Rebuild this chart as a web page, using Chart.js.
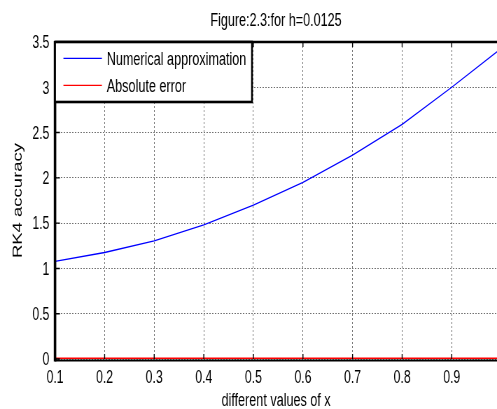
<!DOCTYPE html>
<html>
<head>
<meta charset="utf-8">
<title>RK4 accuracy</title>
<script src="https://cdn.jsdelivr.net/npm/chart.js@4.4.1/dist/chart.umd.min.js"></script>
<style>
    html, body { margin: 0; padding: 0; background: #fff; overflow: hidden; }
</style>
</head>
<body>
<!-- the figure is squeezed sideways, so the canvas is drawn wide and shown narrow -->
<canvas id="rk4" width="710" height="409" style="display:block;width:497px;height:409px"></canvas>
<script>

// values
let x_values = [0.1, 0.2, 0.3, 0.4, 0.5, 0.6, 0.7, 0.8, 0.9, 1.0];
let approx_values = [1.077, 1.176, 1.304, 1.48, 1.70, 1.95, 2.25, 2.59, 3.0, 3.43];
let error_values = [0, 0, 0, 0, 0, 0, 0, 0, 0, 0];

let x_ticks = [0.1, 0.2, 0.3, 0.4, 0.5, 0.6, 0.7, 0.8, 0.9];
let x_tick_labels = ['0.1', '0.2', '0.3', '0.4', '0.5', '0.6', '0.7', '0.8', '0.9'];
let y_ticks = [0, 0.5, 1, 1.5, 2, 2.5, 3, 3.5];
let y_tick_labels = ['0', '0.5', '1', '1.5', '2', '2.5', '3', '3.5'];

let series_labels = ['Numerical approximation', 'Absolute error'];
let series_colors = ['#0000ff', '#ff0000'];


const FONT = "'Liberation Sans', Arial, sans-serif";

function toPoints(xs, ys) {
    let points = [];
    for (let i = 0; i < xs.length; ++i) {
        points.push({x: xs[i], y: ys[i]});
    }
    return points;
}


/**
 * Box round the axes, the little inner ticks and the legend in the top left corner
 */
const framePlugin = {
    id: 'frame',
    afterDatasetsDraw(chart) {
        let ctx = chart.ctx;
        let area = chart.chartArea;
        let xs = chart.scales.x;
        let ys = chart.scales.y;

        ctx.save();
        ctx.strokeStyle = '#000';

        // ticks pointing inwards
        ctx.lineWidth = 1.4;
        ctx.beginPath();
        for (let v of x_ticks) {
            let p = xs.getPixelForValue(v);
            ctx.moveTo(p, area.top);
            ctx.lineTo(p, area.top + 5);
            ctx.moveTo(p, area.bottom);
            ctx.lineTo(p, area.bottom - 5);
        }
        for (let v of y_ticks) {
            let p = ys.getPixelForValue(v);
            ctx.moveTo(area.left, p);
            ctx.lineTo(area.left + 7, p);
        }
        ctx.stroke();

        // axes lines
        ctx.lineWidth = 2.5;
        ctx.beginPath();
        ctx.moveTo(area.left, area.top);
        ctx.lineTo(area.right, area.top);
        ctx.stroke();

        ctx.lineWidth = 2;
        ctx.beginPath();
        ctx.moveTo(area.left, area.bottom + 1.5);
        ctx.lineTo(area.right, area.bottom + 1.5);
        ctx.stroke();

        ctx.lineWidth = 3.6;
        ctx.beginPath();
        ctx.moveTo(area.left, area.top - 1);
        ctx.lineTo(area.left, area.bottom + 2.5);
        ctx.stroke();

        // legend
        let box_w = 281.4;
        let box_h = 60;
        ctx.fillStyle = '#fff';
        ctx.fillRect(area.left, area.top, box_w, box_h);
        ctx.lineWidth = 2.6;
        ctx.strokeRect(area.left, area.top, box_w, box_h);

        ctx.font = '18px ' + FONT;
        ctx.textBaseline = 'middle';
        ctx.textAlign = 'left';
        chart.data.datasets.forEach(function (ds, i) {
            let y = area.top + 16.3 + i * 27;
            ctx.strokeStyle = ds.borderColor;
            ctx.lineWidth = 1.3;
            ctx.beginPath();
            ctx.moveTo(area.left + 12, y);
            ctx.lineTo(area.left + 67, y);
            ctx.stroke();
            ctx.fillStyle = '#000';
            ctx.fillText(ds.label, area.left + 74, y + 2);
        });

        ctx.restore();
    }
};


window.addEventListener('load', function () {
    Chart.defaults.font.family = FONT;
    Chart.defaults.color = '#000';

    let ctx = document.getElementById('rk4').getContext('2d');
    let chart = new Chart(ctx, {
        type: 'line',
        data: {
            datasets: [{
                label: series_labels[0],
                data: toPoints(x_values, approx_values),
                borderColor: series_colors[0],
                borderWidth: 1.3,
                pointRadius: 0,
                fill: false
            }, {
                label: series_labels[1],
                data: toPoints(x_values, error_values),
                borderColor: series_colors[1],
                borderWidth: 3,
                pointRadius: 0,
                fill: false
            }]
        },
        options: {
            responsive: false,
            animation: false,
            devicePixelRatio: 1,
            layout: {padding: 0},
            plugins: {
                legend: {display: false},
                tooltip: {enabled: false},
                title: {
                    display: true,
                    text: 'Figure:2.3:for h=0.0125',
                    fullSize: false,
                    color: '#000',
                    font: {size: 18, weight: 'normal', lineHeight: 1.2},
                    padding: {top: 9.9, bottom: 10.5}
                }
            },
            scales: {
                x: {
                    type: 'linear',
                    min: 0.1,
                    max: 0.9913,
                    afterBuildTicks: function (scale) {
                        scale.ticks = x_ticks.map(v => ({value: v}));
                    },
                    afterFit: function (scale) { scale.height = 50; },
                    ticks: {
                        autoSkip: false,
                        maxRotation: 0,
                        padding: 9,
                        font: {size: 17.5, lineHeight: 1.2},
                        callback: (v, i) => x_tick_labels[i]
                    },
                    grid: {color: '#707070', lineWidth: 1, drawTicks: false},
                    border: {display: false, dash: [2, 2]},
                    title: {
                        display: true,
                        text: 'different values of x',
                        font: {size: 18, lineHeight: 0.8},
                        padding: {top: 0, bottom: 0.3}
                    }
                },
                y: {
                    type: 'linear',
                    min: 0,
                    max: 3.5,
                    afterBuildTicks: function (scale) {
                        scale.ticks = y_ticks.map(v => ({value: v}));
                    },
                    afterFit: function (scale) { scale.width = 78.6; },
                    ticks: {
                        autoSkip: false,
                        padding: 8,
                        labelOffset: 1.5,
                        font: {size: 17.5, lineHeight: 1.2},
                        callback: (v, i) => y_tick_labels[i]
                    },
                    grid: {color: '#707070', lineWidth: 1, drawTicks: false},
                    border: {display: false, dash: [2, 2]},
                    title: {
                        display: true,
                        text: 'RK4 accuracy',
                        font: {size: 18.5, lineHeight: 1.2},
                        padding: {top: 15.1, bottom: 0}
                    }
                }
            }
        },
        plugins: [framePlugin]
    });
});
</script>
</body>
</html>
